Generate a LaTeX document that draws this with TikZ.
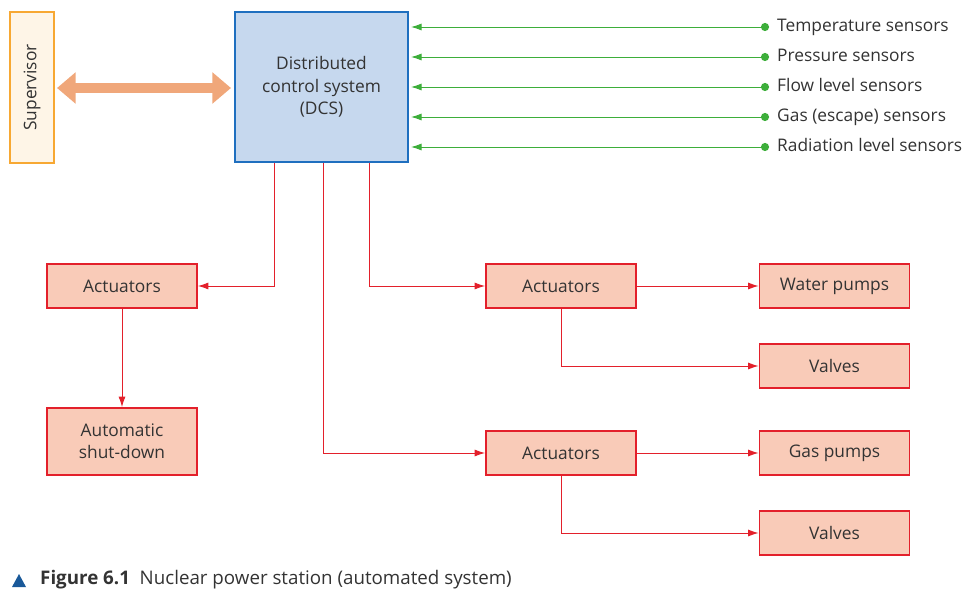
\documentclass[tikz,border=0pt]{standalone}
\usepackage{fontspec}
\setmainfont{Open Sans}
\usetikzlibrary{arrows.meta,positioning}
\definecolor{boxred}{HTML}{E3202B}
\definecolor{boxfill}{HTML}{F9CBB8}
\definecolor{dcsblue}{HTML}{1F6FBF}
\definecolor{dcsfill}{HTML}{C6D8EE}
\definecolor{supor}{HTML}{F7A833}
\definecolor{arrowor}{HTML}{F0A77A}
\definecolor{sensgreen}{HTML}{3DAE3A}
\definecolor{txt}{HTML}{333333}
\tikzset{
  unit/.style={draw=boxred,fill=boxfill,line width=1.5pt,minimum width=150\px,minimum height=44\px,
    align=center,text=txt,inner sep=0pt},
  link/.style={draw=boxred,line width=0.8pt,-{Latex[length=9pt,width=6pt]}},
  sense/.style={draw=sensgreen,line width=0.8pt,-{Latex[length=9pt,width=6pt]}}
}
\newlength{\px}\setlength{\px}{0.03cm}
\begin{document}
\begin{tikzpicture}[x=0.03cm,y=-0.03cm,font=\fontsize{14.8}{19}\selectfont]
\useasboundingbox (0,0) rectangle (980,600);
% supervisor and DCS
\node[draw=supor,fill=supor!12,line width=1.5pt,minimum width=151\px,minimum height=44\px,inner sep=0pt,
  rotate=90,text=txt] (sup) at (32,87.5) {Supervisor};
\node[draw=dcsblue,fill=dcsfill,line width=1.8pt,minimum width=173\px,minimum height=150\px,align=center,
  text=txt,inner sep=0pt] (dcs) at (321.5,87) {Distributed\\control system\\(DCS)};
\draw[arrowor,line width=9pt,{Triangle[length=16pt,width=26pt]}-{Triangle[length=16pt,width=26pt]}]
  (57,88) -- (231,88);
% sensors
\foreach \y/\lbl in {27/Temperature sensors,57/Pressure sensors,87/Flow level sensors,
  117/Gas (escape) sensors,147/Radiation level sensors}{
  \fill[sensgreen] (765,\y) circle (3.5pt) coordinate (s\y);
  \node[anchor=west,text=txt,inner sep=0pt,text height=10pt,text depth=3pt] at (777,\y) {\lbl};
  \draw[sense] (s\y) -- (411,\y);
}
% actuators and plant
\node[unit] (act1) at (122,286) {Actuators};
\node[unit,minimum height=67\px] (shut) at (122,441.5) {Automatic\\shut-down};
\node[unit] (act2) at (561,286) {Actuators};
\node[unit,text height=10pt,text depth=3pt] (wp) at (834.5,286) {Water pumps};
\node[unit] (v1) at (834.5,366) {Valves};
\node[unit] (act3) at (561,453) {Actuators};
\node[unit,text height=10pt,text depth=3pt] (gp) at (834.5,453) {Gas pumps};
\node[unit] (v2) at (834.5,533) {Valves};
\draw[link] (dcs.south -| 274,0) |- (act1.east);
\draw[link] (dcs.south -| 369,0) |- (act2.west);
\draw[link] (dcs.south -| 323,0) |- (act3.west);
\draw[link] (act1) -- (shut);
\draw[link] (act2) -- (wp);
\draw[link] (act2.south) |- (v1.west);
\draw[link] (act3) -- (gp);
\draw[link] (act3.south) |- (v2.west);
% caption
\fill[dcsblue!80!black] (12,587) -- (26,587) -- (19,574) -- cycle;
\node[anchor=west,text=txt,inner sep=0pt,font=\fontsize{16}{19}\selectfont] (cap) at (40,580)
  {\textbf{Figure 6.1}\ \ Nuclear power station (automated system)};
\end{tikzpicture}
\end{document}
